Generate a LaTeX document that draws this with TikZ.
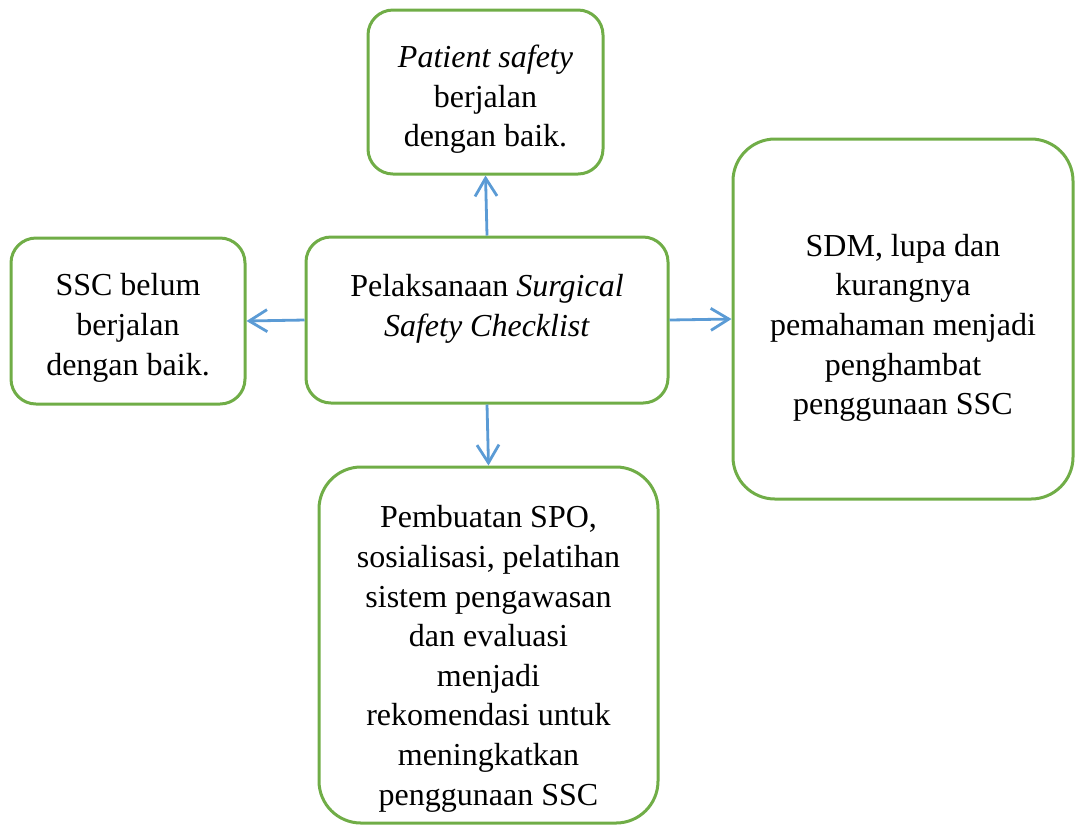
\documentclass[tikz,border=0pt]{standalone}
\usepackage{fontspec}
\setmainfont{Liberation Serif}
\usetikzlibrary{arrows.meta}
\definecolor{boxgreen}{HTML}{70AD47}
\definecolor{arrowblue}{HTML}{5B9BD5}

\begin{document}
\begin{tikzpicture}[x=0.5pt, y=-0.5pt]
    % Node styles
    \tikzset{round box/.style={draw=boxgreen, line width=1.5pt, rounded corners=12.5pt,
                               align=center, font=\fontsize{16}{19.8}\selectfont},
             big box/.style={round box, rounded corners=21pt},
             link/.style={-{Straight Barb[length=9pt, width=11pt]}, arrowblue, line width=1.4pt}}

    \useasboundingbox (0, 0) rectangle (1080, 827);

    % --- Central node ---
    \node[round box, minimum width=181pt, minimum height=83pt, text depth=14.5pt] (ssc) at (487, 320)
        {Pelaksanaan \textit{Surgical}\\ \textit{Safety Checklist}};

    % --- Surrounding nodes ---
    \node[round box, minimum width=117.5pt, minimum height=82pt] (good) at (485.5, 92)
        {\rule{0pt}{18.5pt}\textit{Patient safety}\\ berjalan\\ dengan baik.};
    \node[round box, minimum width=117pt, minimum height=83pt] (notyet) at (128, 321)
        {\rule{0pt}{18pt}SSC belum\\ berjalan\\ dengan baik.};
    \node[big box, minimum width=170pt, minimum height=180pt] (barrier) at (903, 319)
        {\rule{0pt}{20pt}SDM, lupa dan\\ kurangnya\\ pemahaman menjadi\\ penghambat\\ penggunaan SSC};
    \node[big box, minimum width=169.5pt, minimum height=178pt] (advice) at (488.5, 645)
        {\rule{0pt}{25pt}Pembuatan SPO,\\ sosialisasi, pelatihan\\ sistem pengawasan\\ dan evaluasi\\ menjadi\\
         rekomendasi untuk\\ meningkatkan\\ penggunaan SSC};

    % --- Arrows out of the centre ---
    \draw[link] (ssc.north) -- (good.south);
    \draw[link] (ssc.west) -- (notyet.east);
    \draw[link] (ssc.east) -- (barrier.west);
    \draw[link] (ssc.south) -- (advice.north);

\end{tikzpicture}
\end{document}
